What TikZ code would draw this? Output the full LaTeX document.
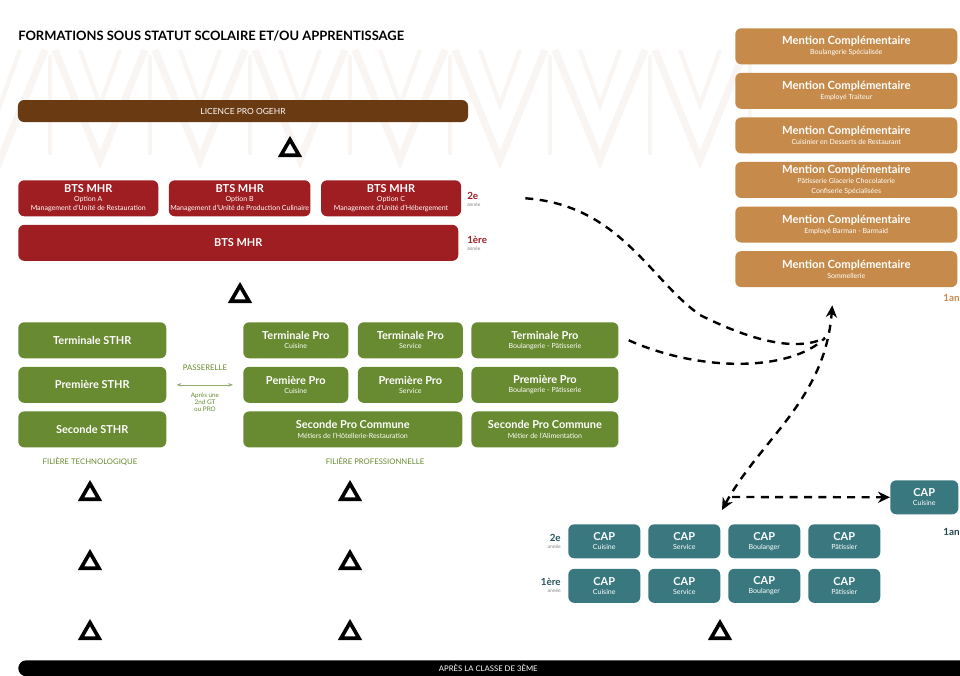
\documentclass[tikz,border=0pt]{standalone}
\usepackage{fontspec}
\setmainfont{Lato}
\usetikzlibrary{shapes.geometric,
                arrows.meta, % for the dashed arrows
                positioning}
\definecolor{licbrown}{RGB}{106,58,18}
\definecolor{btsred}{RGB}{158,30,34}
\definecolor{mctan}{RGB}{198,139,74}
\definecolor{progreen}{RGB}{104,138,48}
\definecolor{capteal}{RGB}{58,120,128}
\definecolor{motif}{RGB}{249,245,243}
\newcommand{\boxsub}[1]{\\[-1.5pt]{\fontsize{5}{5.5}\selectfont\mdseries #1}}

\begin{document}
\begin{tikzpicture}[x=0.25mm, y=-0.25mm,
                    box/.style={rounded corners=1.5mm, inner sep=1pt, align=center, text=white,
                                font=\bfseries\fontsize{7.8}{8}\selectfont, minimum height=9mm},
                    bts/.style={box, fill=btsred, minimum width=35mm},
                    mc/.style={box, fill=mctan, minimum width=55.5mm, font=\bfseries\fontsize{8}{8.5}\selectfont},
                    pro/.style={box, fill=progreen, minimum width=26.25mm},
                    capbox/.style={box, fill=capteal, minimum width=18mm, minimum height=8.5mm},
                    year_label/.style={align=left, inner sep=0, font=\bfseries\fontsize{7}{6}\selectfont},
                    small_text/.style={inner sep=0, align=center, font=\fontsize{5.5}{6}\selectfont},
                    tri/.style={regular polygon, regular polygon sides=3, draw=black, fill=white,
                                line width=2.6pt, minimum size=5.2mm, inner sep=0},
                    dash_line/.style={line width=1.7pt, dash pattern=on 2mm off 1.6mm},
                    dash_arrow/.style={dash_line, -{Stealth[length=3mm, width=2.8mm]}}
                    ]
    \clip (0,0) rectangle (960,675);
    \fill[white] (0,0) rectangle (960,675);

    % faint background motif
    \foreach \x in {0,100,...,700} {
        \draw[motif, line width=5pt] (\x-45,50) -- (\x,160) -- (\x+45,50);
        \draw[motif, line width=3pt] (\x-20,50) -- (\x,105) -- (\x+20,50);
        \draw[motif, line width=3pt] (\x+50,55) -- (\x+50,155);
    }

    \node[anchor=west, inner sep=0, font=\bfseries\fontsize{9.2}{10}\selectfont] (title) at (18,36)
        {FORMATIONS SOUS STATUT SCOLAIRE ET/OU APPRENTISSAGE};

    \node[box, fill=licbrown, minimum width=112.5mm, minimum height=5.5mm,
          font=\fontsize{6}{6}\selectfont] (licence) at (243,111) {LICENCE PRO OGEHR};

    % BTS
    \node[bts, anchor=north west] (btsA) at (18,180)
        {BTS MHR\boxsub{Option A}\boxsub{Management d'Unité de Restauration}};
    \node[bts, right=2.5mm of btsA] (btsB)
        {BTS MHR\boxsub{Option B}\boxsub{Management d'Unité de Production Culinaire}};
    \node[bts, right=2.5mm of btsB] (btsC)
        {BTS MHR\boxsub{Option C}\boxsub{Management d'Unité d'Hébergement}};
    \node[bts, minimum width=110mm, below right=2mm and 0mm of btsA.south west] (btsAll) {BTS MHR};
    \node[year_label, text=btsred, anchor=west] (btsY2) at (467,199)
        {2e\\[-1pt]{\fontsize{3.5}{4}\selectfont\mdseries\color{gray} année}};
    \node[year_label, text=btsred, anchor=west] (btsY1) at (467,243)
        {1ère\\[-1pt]{\fontsize{3.5}{4}\selectfont\mdseries\color{gray} année}};

    % Mentions complementaires
    \node[mc, anchor=north west] (mc1) at (735,28) {Mention Complémentaire\boxsub{Boulangerie Spécialisée}};
    \node[mc, below=2mm of mc1] (mc2) {Mention Complémentaire\boxsub{Employé Traiteur}};
    \node[mc, below=2mm of mc2] (mc3) {Mention Complémentaire\boxsub{Cuisinier en Desserts de Restaurant}};
    \node[mc, below=2mm of mc3] (mc4) {Mention Complémentaire\boxsub{Pâtisserie Glacerie Chocolaterie}\boxsub{Confiserie Spécialisées}};
    \node[mc, below=2mm of mc4] (mc5) {Mention Complémentaire\boxsub{Employé Barman - Barmaid}};
    \node[mc, below=2mm of mc5] (mc6) {Mention Complémentaire\boxsub{Sommellerie}};
    \node[year_label, text=mctan, anchor=east] (mcYear) at (960,298) {1an};

    % filiere technologique
    \node[pro, minimum width=37mm, anchor=north west] (sthrT) at (18,322) {Terminale STHR};
    \node[pro, minimum width=37mm, below=2mm of sthrT] (sthrP) {Première STHR};
    \node[pro, minimum width=37mm, below=2mm of sthrP] (sthrS) {Seconde STHR};
    \node[small_text, text=progreen] (filTech) at (90,461) {FILIÈRE TECHNOLOGIQUE};

    % filiere professionnelle
    \node[pro, anchor=north west] (proT1) at (243,322) {Terminale Pro\boxsub{Cuisine}};
    \node[pro, right=2.25mm of proT1] (proT2) {Terminale Pro\boxsub{Service}};
    \node[pro, minimum width=36.75mm, right=2mm of proT2] (proT3) {Terminale Pro\boxsub{Boulangerie - Pâtisserie}};
    \node[pro, below=2mm of proT1] (proP1) {Pemière Pro\boxsub{Cuisine}};
    \node[pro, below=2mm of proT2] (proP2) {Première Pro\boxsub{Service}};
    \node[pro, minimum width=36.75mm, below=2mm of proT3] (proP3) {Première Pro\boxsub{Boulangerie - Pâtisserie}};
    \node[pro, minimum width=54.75mm, below right=2mm and 0mm of proP1.south west] (proS1)
        {Seconde Pro Commune\boxsub{Métiers de l'Hôtellerie-Restauration}};
    \node[pro, minimum width=36.75mm, below=2mm of proP3] (proS2)
        {Seconde Pro Commune\boxsub{Métier de l'Alimentation}};
    \node[small_text, text=progreen] (filPro) at (375,461) {FILIÈRE PROFESSIONNELLE};

    % passerelle
    \node[small_text, text=progreen] (passerelle) at (205,368) {PASSERELLE};
    \draw[{Stealth[length=1.2mm]}-{Stealth[length=1.2mm]}, progreen!70, line width=0.5pt]
        ([xshift=2.5mm]sthrP.east) -- ([xshift=-2.5mm]proP1.west);
    \node[small_text, text=progreen, font=\fontsize{4.5}{5}\selectfont] (apres) at (205,402) {Après une\\2nd GT\\ou PRO};

    % CAP
    \foreach \sub [count=\i] in {Cuisine, Service, Boulanger, Pâtissier} {
        \node[capbox, anchor=north west] (capA\i) at ({568+80*(\i-1)},524) {CAP\boxsub{\sub}};
        \node[capbox, below=2.5mm of capA\i] (capB\i) {CAP\boxsub{\sub}};
    }
    \node[year_label, text=capteal!70!black, anchor=east, align=right] (capY2) at (561,541)
        {2e\\[-1pt]{\fontsize{3.5}{4}\selectfont\mdseries\color{gray} année}};
    \node[year_label, text=capteal!70!black, anchor=east, align=right] (capY1) at (561,585)
        {1ère\\[-1pt]{\fontsize{3.5}{4}\selectfont\mdseries\color{gray} année}};
    \node[capbox, minimum width=17mm, anchor=north west] (capOne) at (890,480) {CAP\boxsub{Cuisine}};
    \node[year_label, text=capteal!60!black, anchor=east] (capYear) at (960,532) {1an};

    % apres la 3eme
    \node[anchor=north west, fill=black, rounded corners=2mm, minimum width=245mm, minimum height=4mm,
          text=white, font=\fontsize{5.5}{6}\selectfont, inner sep=0] (base) at (18,660) {\hspace*{-10mm}APRÈS LA CLASSE DE 3ÈME};
    \fill[black] (base.south west) rectangle ([yshift=-2mm]base.east);

    \foreach \p [count=\i] in {(290,150), (240,296), (90,494), (350,494), (90,563),
                               (350,563), (90,633), (350,633), (720,633)} {
        \node[tri] (tri\i) at \p {};
    }

    % dashed connectors
    \coordinate (capFork) at (722,510);
    \coordinate (forkH) at (732,497);
    \coordinate (mcIn) at ([xshift=-3.5mm, yshift=-4.5mm]mc6.south);
    \coordinate (mcJoin) at (825,338);
    \draw[dash_arrow, {Stealth[length=3mm, width=2.8mm]}-{Stealth[length=3mm, width=2.8mm]}]
        (capFork) .. controls (760,440) and (825,400) .. (mcIn);
    \draw[dash_arrow] (forkH) -- (capOne.west);
    \draw[dash_line] ([xshift=16mm]btsC.east) .. controls (620,205) and (650,280) .. (700,315)
        .. controls (760,345) and (800,350) .. (mcJoin);
    \draw[dash_line] ([xshift=2.5mm]proT3.east) .. controls (700,372) and (790,372) .. (mcJoin);
\end{tikzpicture}
\end{document}
